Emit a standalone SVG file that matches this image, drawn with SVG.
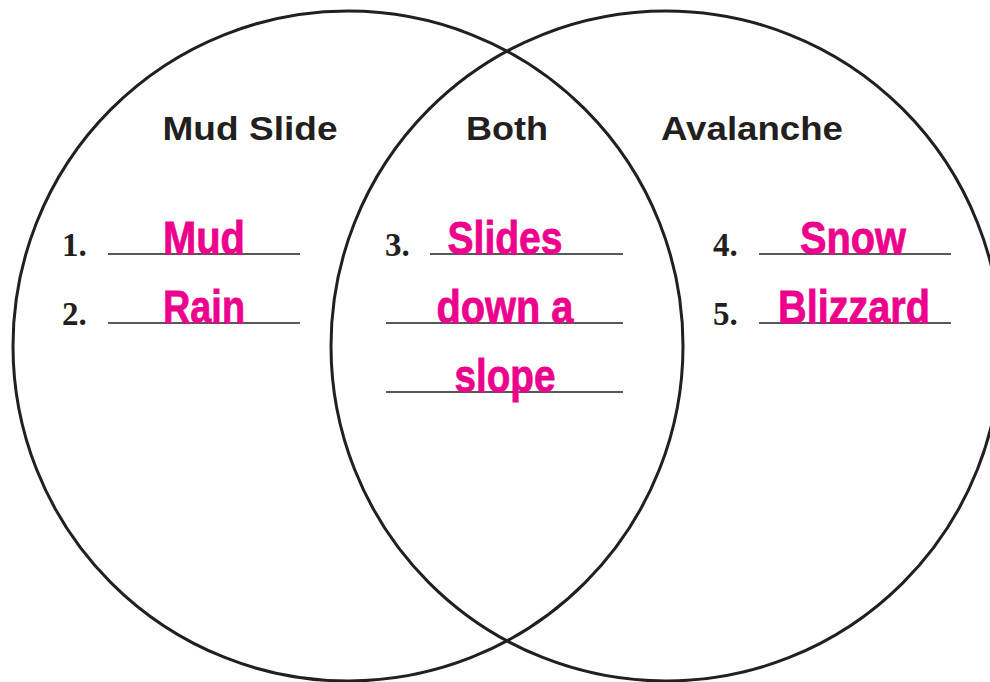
<svg xmlns="http://www.w3.org/2000/svg" width="990" height="682" viewBox="0 0 990 682">
<style>
.circ{fill:none;stroke:#231f20;stroke-width:3}
.hd{font-family:"Liberation Sans",Arial,sans-serif;font-weight:bold;font-size:34px;fill:#231f20;text-anchor:middle}
.num{font-family:"Liberation Serif","Times New Roman",serif;font-weight:bold;font-size:33px;fill:#231f20}
.ln{stroke:#231f20;stroke-width:1.5}
.ans{font-family:"Liberation Sans",Arial,sans-serif;font-weight:bold;font-size:47px;fill:#ec008c;stroke:#ec008c;stroke-width:0.8;text-anchor:middle}
</style>
<rect width="990" height="682" fill="#ffffff"/>
<g id="mudslide">
<circle class="circ" cx="348" cy="346" r="335"/>
<text class="hd" x="250" y="140" textLength="175" lengthAdjust="spacingAndGlyphs">Mud Slide</text>
<text class="num" x="62" y="256">1.</text>
<line class="ln" x1="108" y1="254" x2="300" y2="254"/>
<text class="ans" x="204" y="254" textLength="82" lengthAdjust="spacingAndGlyphs">Mud</text>
<text class="num" x="62" y="325">2.</text>
<line class="ln" x1="108" y1="323" x2="300" y2="323"/>
<text class="ans" x="204" y="323" textLength="82" lengthAdjust="spacingAndGlyphs">Rain</text>
</g>
<g id="avalanche">
<circle class="circ" cx="666" cy="346" r="335"/>
<text class="hd" x="752" y="140" textLength="182" lengthAdjust="spacingAndGlyphs">Avalanche</text>
<text class="num" x="713" y="256">4.</text>
<line class="ln" x1="759" y1="254" x2="951" y2="254"/>
<text class="ans" x="853" y="254" textLength="106" lengthAdjust="spacingAndGlyphs">Snow</text>
<text class="num" x="713" y="325">5.</text>
<line class="ln" x1="759" y1="323" x2="951" y2="323"/>
<text class="ans" x="854" y="323" textLength="152" lengthAdjust="spacingAndGlyphs">Blizzard</text>
</g>
<g id="both">
<text class="hd" x="507" y="140" textLength="82" lengthAdjust="spacingAndGlyphs">Both</text>
<text class="num" x="385" y="256">3.</text>
<line class="ln" x1="430" y1="254" x2="623" y2="254"/>
<text class="ans" x="505" y="254" textLength="115" lengthAdjust="spacingAndGlyphs">Slides</text>
<line class="ln" x1="386" y1="323" x2="623" y2="323"/>
<text class="ans" x="505" y="323" textLength="137" lengthAdjust="spacingAndGlyphs">down a</text>
<line class="ln" x1="386" y1="392" x2="623" y2="392"/>
<text class="ans" x="505" y="392" textLength="101" lengthAdjust="spacingAndGlyphs">slope</text>
</g>
<g id="connectors"/>
</svg>
